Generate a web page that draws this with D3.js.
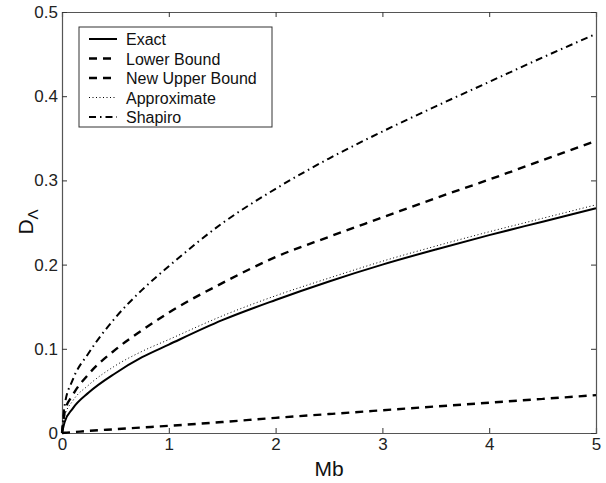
<!DOCTYPE html>
<html lang="en">
<head>
<meta charset="UTF-8">
<title>D vs Mb</title>
<style>
body{margin:0;background:#fff;}
text{font-family:"Liberation Sans",Arial,sans-serif;}
</style>
</head>
<body>
<script src="https://cdn.jsdelivr.net/npm/d3@7"></script>
<script>
// values
var mb=[0,0.025,0.1,0.25,0.5,0.75,1,1.5,2,2.5,3,3.5,4,4.5,5]
var exact=[0,0.013,0.029,0.048,0.071,0.09,0.105,0.134,0.158,0.18,0.2,0.218,0.235,0.251,0.267]
var lowerBound=[0,0.0003,0.001,0.0025,0.0045,0.0065,0.0085,0.013,0.018,0.0225,0.027,0.0315,0.036,0.0405,0.045]
var newUpper=[0,0.025,0.045,0.07,0.099,0.122,0.143,0.178,0.209,0.233,0.256,0.279,0.301,0.324,0.347]
var approx=[0,0.02,0.038,0.057,0.08,0.097,0.111,0.139,0.163,0.184,0.204,0.222,0.239,0.255,0.271]
var shapiro=[0,0.033,0.063,0.095,0.137,0.17,0.198,0.249,0.29,0.326,0.358,0.388,0.417,0.446,0.474]
var xTicks=[0,1,2,3,4,5]
var yTicks=[0,0.1,0.2,0.3,0.4,0.5]

var series=[
    {name:'Exact',values:exact,dash:null,width:2},
    {name:'Lower Bound',values:lowerBound,dash:'8,6',width:2.4},
    {name:'New Upper Bound',values:newUpper,dash:'8,6',width:2.4},
    {name:'Approximate',values:approx,dash:'1,2.5',width:1},
    {name:'Shapiro',values:shapiro,dash:'7,4,1.5,4',width:2}
]

var width=606,height=483
var m={left:62,right:10,top:12,bottom:50}
var svg=d3.select('body').append('svg').attr('width',width).attr('height',height)

var x=d3.scaleLinear().domain([0,5]).range([m.left,width-m.right])
var y=d3.scaleLinear().domain([0,0.5]).range([height-m.bottom,m.top])

var fmt=function(d){return d===0?'0':String(d)}

// ticks pointing inward on all four sides
svg.append('g').attr('transform','translate(0,'+y(0)+')')
    .call(d3.axisBottom(x).tickValues(xTicks).tickSize(-5).tickPadding(5).tickFormat(fmt))
svg.append('g').attr('transform','translate(0,'+y(0.5)+')')
    .call(d3.axisTop(x).tickValues(xTicks).tickSize(-5).tickFormat(''))
svg.append('g').attr('transform','translate('+x(0)+',0)')
    .call(d3.axisLeft(y).tickValues(yTicks).tickSize(-5).tickPadding(4).tickFormat(fmt))
svg.append('g').attr('transform','translate('+x(5)+',0)')
    .call(d3.axisRight(y).tickValues(yTicks).tickSize(-5).tickFormat(''))

svg.selectAll('.domain').attr('stroke','#555').attr('stroke-width',1.2)
svg.selectAll('.tick line').attr('stroke','#333')
svg.selectAll('.tick text').attr('font-size',17).attr('fill','#222')
    .attr('font-family','"Liberation Sans",Arial,sans-serif')

var line=d3.line().x(function(d,i){return x(mb[i])}).y(function(d){return y(d)}).curve(d3.curveMonotoneX)

svg.selectAll('path.curve').data(series).enter().append('path')
    .attr('class','curve')
    .attr('d',function(d){return line(d.values)})
    .attr('fill','none')
    .attr('stroke','#000')
    .attr('stroke-width',function(d){return d.width})
    .attr('stroke-dasharray',function(d){return d.dash})

// legend
var lg=svg.append('g').attr('transform','translate(79,27)')
lg.append('rect').attr('width',193).attr('height',100).attr('fill','#fff').attr('stroke','#333').attr('stroke-width',1)
var rows=lg.selectAll('g.row').data(series).enter().append('g')
    .attr('transform',function(d,i){return 'translate(0,'+(12+i*19.5)+')'})
rows.append('line').attr('x1',10).attr('x2',38).attr('y1',0).attr('y2',0)
    .attr('stroke','#000')
    .attr('stroke-width',function(d){return d.width})
    .attr('stroke-dasharray',function(d){return d.dash})
rows.append('text').attr('x',47).attr('y',6).attr('font-size',16).attr('fill','#111')
    .text(function(d){return d.name})

// axis titles
svg.append('text').attr('x',x(2.5)).attr('y',476).attr('text-anchor','middle')
    .attr('font-size',21).attr('fill','#111').text('Mb')
var yl=svg.append('text').attr('transform','translate(33,222) rotate(-90)')
    .attr('text-anchor','middle').attr('font-size',21).attr('fill','#111')
yl.append('tspan').text('D')
yl.append('tspan').attr('font-size',15).attr('dy',5).text('Λ')
</script>
</body>
</html>
